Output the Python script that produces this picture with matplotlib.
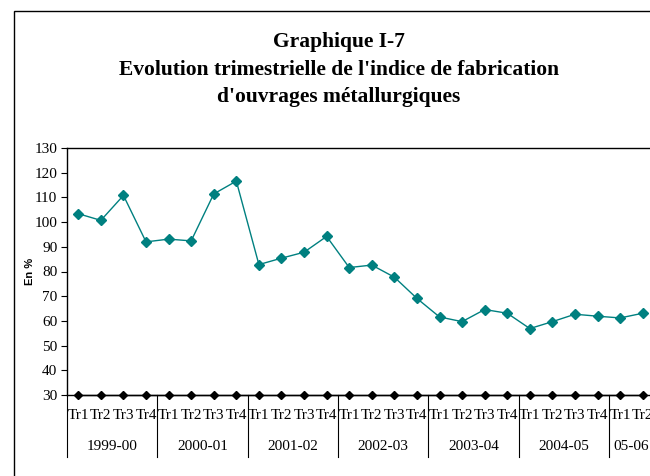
import numpy as np
import matplotlib
matplotlib.use("Agg")
import matplotlib.pyplot as plt
from matplotlib.patches import Rectangle
from matplotlib.transforms import blended_transform_factory

# ------------------------------------------------------------
# Donnees
# ------------------------------------------------------------
annees = ["1999-00", "2000-01", "2001-02", "2002-03", "2003-04", "2004-05", "05-06"]
trimestres_par_annee = [4, 4, 4, 4, 4, 4, 2]
trimestres = ["Tr1", "Tr2", "Tr3", "Tr4"]

indice = [103.4, 100.7, 110.8, 92.0, 93.1, 92.4, 111.4, 116.6,
          82.8, 85.4, 87.8, 94.2, 81.6, 82.6, 77.7, 69.1,
          61.6, 59.7, 64.6, 63.1, 56.9, 59.7, 62.7, 61.9,
          61.2, 63.1]
base = [30] * len(indice)

titre = ["Graphique I-7",
         "Evolution trimestrielle de l'indice de fabrication",
         "d'ouvrages métallurgiques"]

# ------------------------------------------------------------
# Figure
# ------------------------------------------------------------
plt.rcParams['font.family'] = ['Liberation Serif', 'DejaVu Serif']

fig = plt.figure(figsize=(6.5, 4.76), dpi=100)

# cadre exterieur
fig.patches.append(Rectangle((14/650, -0.1), 1.0, 1 - 11/476 + 0.1,
                             transform=fig.transFigure, fill=False,
                             edgecolor='black', linewidth=1.0, clip_on=False))

for ligne, y in zip(titre, [42, 70, 97]):
    fig.text(339/650, 1 - y/476, ligne, ha='center', va='center',
             fontsize=15.5, fontweight='bold')

n = sum(trimestres_par_annee)
largeur = (654 - 67) / 650
ax = fig.add_axes([67/650, 1 - 395/476, largeur, (395 - 148)/476])

x = np.arange(len(indice)) + 0.5
ax.plot(x, indice, color='#008080', linewidth=1.0, marker='D', markersize=5.5,
        markerfacecolor='#008080', markeredgecolor='#008080', zorder=3)
ax.plot(x, base, color='black', linewidth=1.0, marker='D', markersize=3.8,
        clip_on=False, zorder=4)

ax.set_xlim(0, n)
ax.set_ylim(30, 130)
ax.set_yticks(np.arange(30, 131, 10))
ax.tick_params(axis='y', labelsize=11, length=4, width=0.8, direction='out', pad=3)

# etiquettes trimestres
labels = []
for k in trimestres_par_annee:
    labels += trimestres[:k]
ax.set_xticks(x)
ax.set_xticklabels(labels, fontsize=11)
ax.tick_params(axis='x', length=0, pad=10)

ax.spines['right'].set_visible(False)
for s in ['left', 'top', 'bottom']:
    ax.spines[s].set_linewidth(1.0)

# separateurs et annees
trans = blended_transform_factory(ax.transData, ax.transAxes)
bas = -(457 - 395) / 247
pos = 0
for annee, k in zip(annees, trimestres_par_annee):
    ax.plot([pos, pos], [0, bas], color='black', linewidth=0.8,
            transform=trans, clip_on=False)
    ax.text(pos + k / 2, -(446 - 395) / 247, annee, transform=trans,
            ha='center', va='center', fontsize=11)
    pos += k
ax.plot([pos, pos], [0, bas], color='black', linewidth=0.8,
        transform=trans, clip_on=False)

ax.set_ylabel("En %", family='Liberation Sans', fontsize=8, fontweight='bold')
ax.yaxis.set_label_coords((35 - 67) / 587, 0.5)

fig.savefig("out.png", dpi=100)
